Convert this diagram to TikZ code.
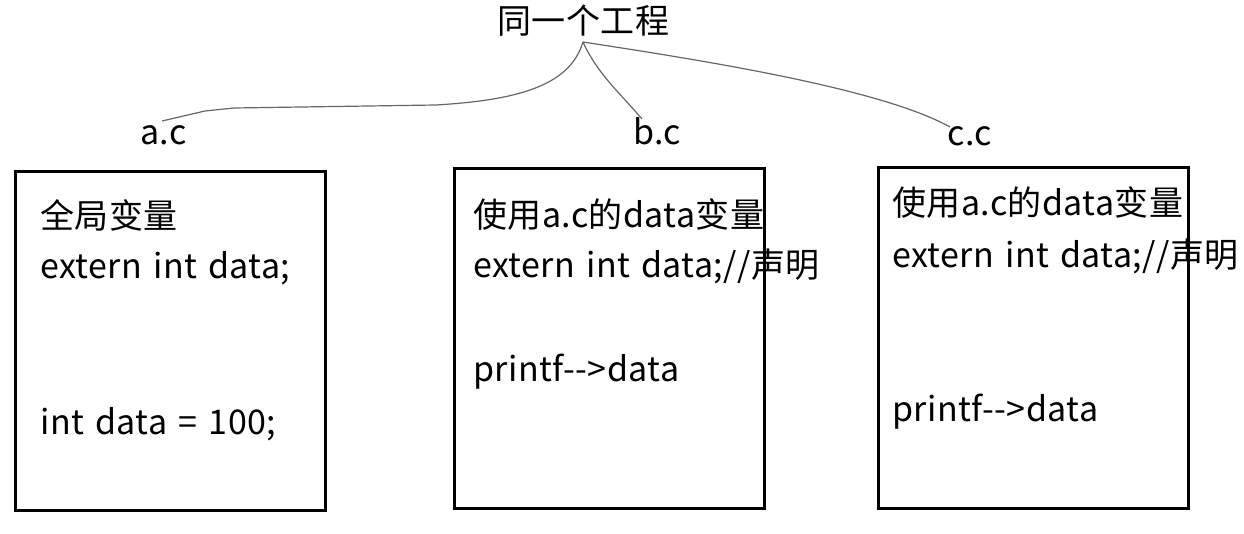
\documentclass[tikz,border=0pt]{standalone}
\usepackage{fontspec}
\newfontfamily\cjkfont{Noto Sans CJK SC}[LetterSpace=1.2,WordSpace=1.4]
\begin{document}
\begin{tikzpicture}[x=0.5pt,y=-0.5pt,
  txt/.style={anchor=base west,inner sep=0pt,font=\cjkfont\fontsize{17}{20}\selectfont},
  filebox/.style={draw=black,line width=1.3pt,anchor=north west,inner sep=0pt},
  link/.style={draw=black!60,line width=0.6pt}]
\useasboundingbox (0,0) rectangle (1244,534);
% title and labels
\node[txt] (title) at (497,34) {同一个工程};
\node[txt] (ac) at (140,145) {a.c};
\node[txt] (bc) at (633,145) {b.c};
\node[txt] (cc) at (947,146) {c.c};
% boxes
\node[filebox,minimum width=155pt,minimum height=169.5pt] (boxa) at (14,170) {};
\node[filebox,minimum width=155pt,minimum height=170pt] (boxb) at (453,167) {};
\node[filebox,minimum width=155pt,minimum height=170.5pt] (boxc) at (877,166) {};
% box texts
\node[txt] (a1) at (40,229) {全局变量};
\node[txt] (a2) at (40,279) {extern int data;};
\node[txt] (a3) at (40,435) {int data = 100;};
\node[txt] (b1) at (473,228) {使用a.c的data变量};
\node[txt] (b2) at (473,278) {extern int data;//声明};
\node[txt] (b3) at (473,382) {printf-->data};
\node[txt] (c1) at (892,216) {使用a.c的data变量};
\node[txt] (c2) at (892,268) {extern int data;//声明};
\node[txt] (c3) at (892,422) {printf-->data};
% connectors
\coordinate (j) at (583,42);
\coordinate (ea) at (162,121);
\coordinate (eb) at (642,119);
\coordinate (ec) at (950,127);
\draw[link] (j) .. controls (570,85) and (520,100) .. (436,105) -- (234,108) -- (205,111) -- (ea);
\draw[link] (j) .. controls (598,75) and (622,95) .. (eb);
\draw[link] (j) .. controls (700,60) and (880,88) .. (ec);
\end{tikzpicture}
\end{document}
